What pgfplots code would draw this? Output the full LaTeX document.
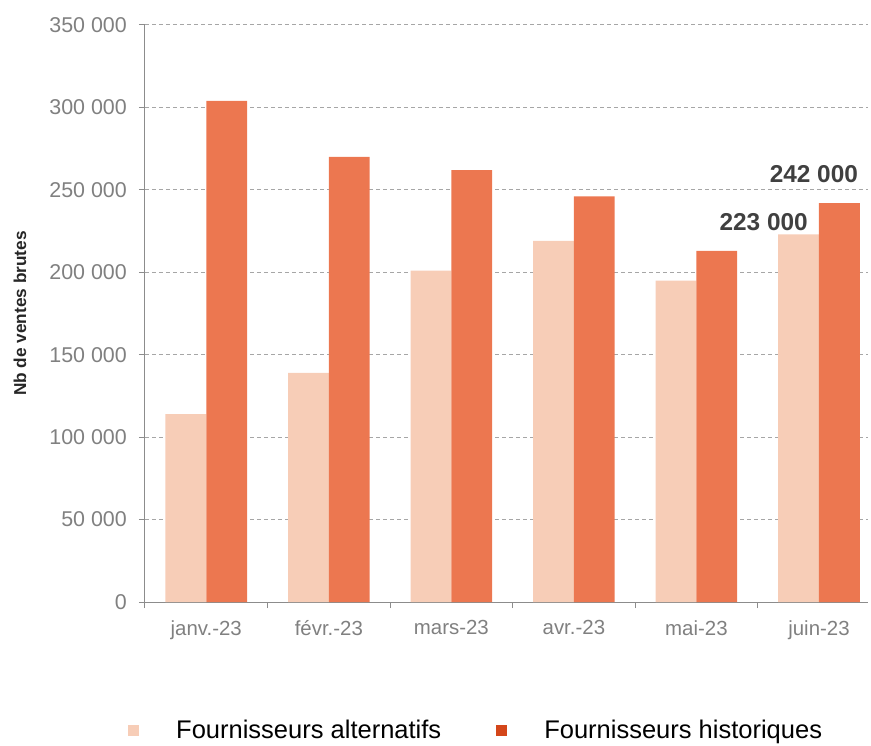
\documentclass[border=0pt]{standalone}
\usepackage{pgfplots}
\pgfplotsset{compat=1.18}
\usepackage{fontspec}
\setmainfont{Liberation Sans}
\definecolor{altc}{HTML}{F7CDB7}
\definecolor{histc}{HTML}{EC7750}
\definecolor{histleg}{HTML}{D4461A}
\definecolor{tickgray}{HTML}{808080}
\definecolor{gridgray}{HTML}{A6A6A6}
\definecolor{axgray}{HTML}{8C8C8C}
\definecolor{annot}{HTML}{404040}
\begin{document}
\begin{tikzpicture}
\useasboundingbox (-145bp,-144bp) rectangle (726bp,602bp);
\begin{axis}[
  at={(0,0)}, anchor=south west,
  scale only axis, width=723bp, height=577bp,
  xmin=-0.5, xmax=5.40, ymin=0, ymax=350000,
  axis x line*=bottom, axis y line*=left,
  axis line style={axgray, line width=1bp},
  ybar, bar width=40.8bp,
  tick align=outside,
  major tick length=6bp,
  tick style={axgray, line width=1bp},
  scaled x ticks=false, scaled y ticks=false,
  xtick={-0.5,0.5,1.5,2.5,3.5,4.5},
  xticklabels={,,,,,},
  extra x ticks={0,1,2,3,4,5},
  extra x tick labels={janv.-23,févr.-23,mars-23,avr.-23,mai-23,juin-23},
  extra x tick style={major tick length=0pt, grid=none},
  xticklabel style={font=\fontsize{20.5}{24}\selectfont, text=tickgray, inner sep=0pt, anchor=north, yshift=-18bp},
  ytick={0,50000,100000,150000,200000,250000,300000,350000},
  yticklabels={0,50 000,100 000,150 000,200 000,250 000,300 000,350 000},
  yticklabel style={font=\fontsize{21.5}{24}\selectfont, text=tickgray, inner sep=0pt, anchor=east, xshift=-12bp},
  ymajorgrids,
  grid style={gridgray, dash pattern=on 4bp off 3bp, line width=1bp},
  every axis y label/.style={at={(rel axis cs:-0.1730,0.5)}, rotate=90, anchor=center, font=\bfseries\fontsize{17.3}{20}\selectfont, text=black!85},
  ylabel={Nb de ventes brutes},
  legend style={at={(rel axis cs:-0.0235,-0.2225)}, anchor=west, draw=none, fill=none, inner sep=0pt,
    legend columns=2, /tikz/every even column/.append style={column sep=55bp},
    nodes={inner sep=0pt, font=\fontsize{25.6}{30}\selectfont, text=black}},
  clip=false,
]
\addplot[forget plot, fill=altc, draw=none, bar shift=-20.4bp] coordinates {(0,114000) (1,139000) (2,201000) (3,219000) (4,195000) (5,223000)};
\addplot[forget plot, fill=histc, draw=none, bar shift=20.4bp] coordinates {(0,304000) (1,270000) (2,262000) (3,246000) (4,213000) (5,242000)};
\addlegendimage{legend image code/.code={\path[draw=none,fill=none] (0bp,-5.5bp) rectangle (48bp,5.5bp); \fill[altc,draw=none] (0bp,-5.5bp) rectangle (11bp,5.5bp);}}
\addlegendentry{Fournisseurs alternatifs}
\addlegendimage{legend image code/.code={\path[draw=none,fill=none] (0bp,-5.5bp) rectangle (48bp,5.5bp); \fill[histleg,draw=none] (0bp,-5.5bp) rectangle (11bp,5.5bp);}}
\addlegendentry{Fournisseurs historiques}
\node[anchor=east, inner sep=0pt, font=\bfseries\fontsize{24.5}{28}\selectfont, text=annot] at (axis cs:5.32,259600) {242 000};
\node[anchor=east, inner sep=0pt, font=\bfseries\fontsize{24.5}{28}\selectfont, text=annot] at (axis cs:4.91,230500) {223 000};
\end{axis}
\end{tikzpicture}
\end{document}
